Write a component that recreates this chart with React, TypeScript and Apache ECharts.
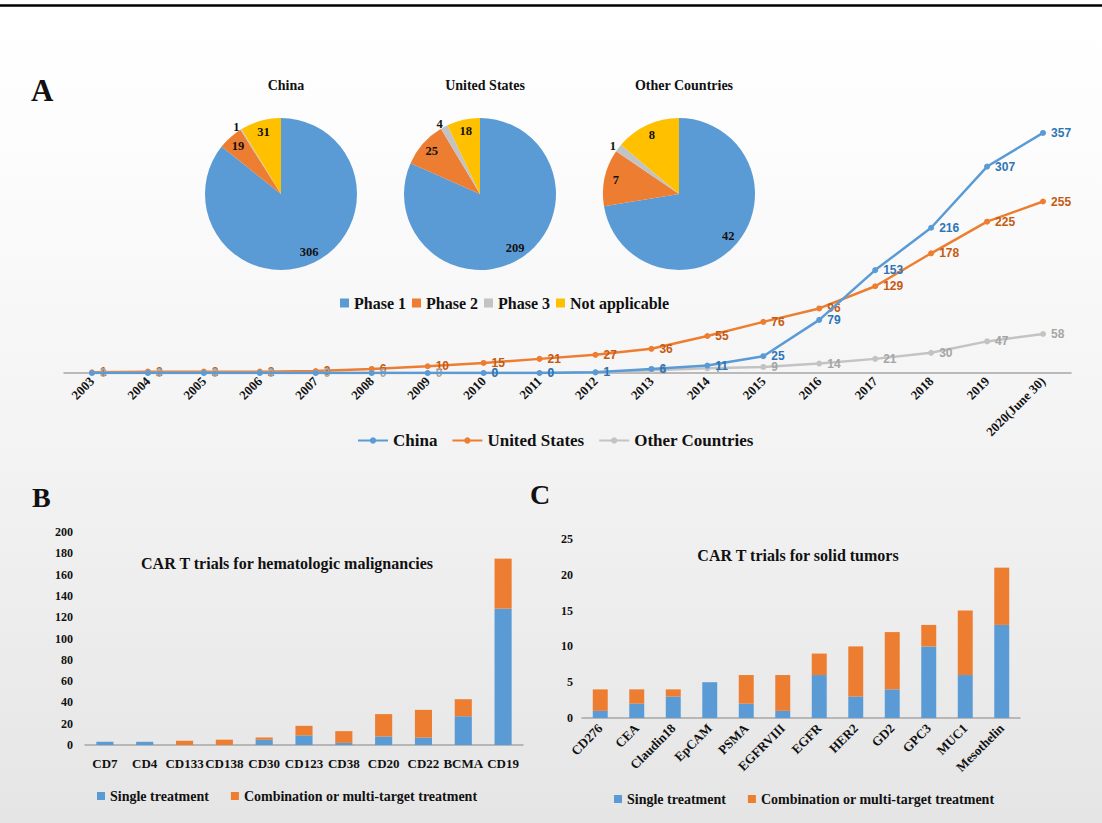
import React, { useEffect, useRef } from "react";
import * as echarts from "echarts";

// ---------- Data ----------
const years = ["2003", "2004", "2005", "2006", "2007", "2008", "2009", "2010", "2011", "2012", "2013", "2014", "2015", "2016", "2017", "2018", "2019", "2020(June 30)"];
const chinaTrials = [0, 0, 0, 0, 0, 0, 0, 0, 0, 1, 6, 11, 25, 79, 153, 216, 307, 357];
const usTrials = [1, 2, 2, 2, 3, 6, 10, 15, 21, 27, 36, 55, 76, 96, 129, 178, 225, 255];
const otherTrials = [0, 0, 0, 0, 0, 0, 0, 0, 0, 1, 4, 7, 9, 14, 21, 30, 47, 58];

const phaseNames = ["Phase 1", "Phase 2", "Phase 3", "Not applicable"];
const chinaPhases = [306, 19, 1, 31];
const usPhases = [209, 25, 4, 18];
const otherPhases = [42, 7, 1, 8];

const hemaTargets = ["CD7", "CD4", "CD133", "CD138", "CD30", "CD123", "CD38", "CD20", "CD22", "BCMA", "CD19"];
const hemaSingle = [3, 3, 0, 0, 5, 9, 2, 8, 7, 27, 128];
const hemaCombo = [0, 0, 4, 5, 2, 9, 11, 21, 26, 16, 47];

const solidTargets = ["CD276", "CEA", "Claudin18", "EpCAM", "PSMA", "EGFRVIII", "EGFR", "HER2", "GD2", "GPC3", "MUC1", "Mesothelin"];
const solidSingle = [1, 2, 3, 5, 2, 1, 6, 3, 4, 10, 6, 13];
const solidCombo = [3, 2, 1, 0, 4, 5, 3, 7, 8, 3, 9, 8];

// ---------- Styles ----------
const SERIF = "'Liberation Serif', 'Times New Roman', serif";
const SANS = "'Liberation Sans', Arial, sans-serif";
const BLUE = "#5B9BD5";
const ORANGE = "#ED7D31";
const GRAY = "#C3C3C3";
const YELLOW = "#FFC000";
const phaseColors = [BLUE, ORANGE, GRAY, YELLOW];

const pieCenters: [number, number][] = [[281, 194], [480, 194], [679, 194]];
const pieTitles = ["China", "United States", "Other Countries"];
const pieValues = [chinaPhases, usPhases, otherPhases];
const R = 76;

function buildOption() {
  const pieSeries: any[] = [];
  pieValues.forEach((vals, i) => {
    pieSeries.push({
      type: "pie",
      name: "pie-" + pieTitles[i],
      center: pieCenters[i],
      radius: [0, R],
      startAngle: 90,
      clockwise: true,
      silent: true,
      label: { show: false },
      labelLine: { show: false },
      data: vals.map((v, k) => ({ name: phaseNames[k], value: v, itemStyle: { color: phaseColors[k] } })),
    });
    pieSeries.push({
      type: "pie",
      name: "pie-labels-" + pieTitles[i],
      center: pieCenters[i],
      radius: [R * 0.62, R],
      startAngle: 90,
      clockwise: true,
      silent: true,
      z: 3,
      itemStyle: { color: "transparent" },
      label: {
        show: true,
        position: "inside",
        fontFamily: SERIF,
        fontWeight: "bold",
        fontSize: 12.5,
        color: "#111",
        formatter: "{c}",
      },
      labelLine: { show: false },
      data: vals.map((v, k) => ({
        name: phaseNames[k],
        value: v,
        itemStyle: { color: "transparent" },
        label: k === 2 ? { position: "outside", distanceToLabelLine: 0 } : undefined,
        labelLine: k === 2 ? { show: false, length: 3, length2: 0 } : undefined,
      })),
    });
  });

  const lineLabel = (color: string, minIndex: number) => ({
    show: true,
    position: "right",
    distance: 5,
    color,
    fontFamily: SANS,
    fontWeight: "bold",
    fontSize: 12,
    formatter: (p: any) => (p.dataIndex >= minIndex ? String(p.value) : ""),
  });

  const boldSerif = (size: number, color = "#111") => ({ fontFamily: SERIF, fontWeight: "bold", fontSize: size, color });

  const lineSeries = (name: string, data: number[], color: string, labelColor: string, minIndex: number, z: number) => ({
    type: "line",
    name,
    xAxisIndex: 0,
    yAxisIndex: 0,
    data,
    symbol: "circle",
    symbolSize: 6,
    itemStyle: { color },
    lineStyle: { width: 2.5, color },
    label: lineLabel(labelColor, minIndex),
    z,
  });

  return {
    animation: false,
    graphic: [
      {
        type: "rect",
        z: -10,
        silent: true,
        shape: { x: 0, y: 0, width: 1102, height: 823 },
        style: {
          fill: new echarts.graphic.LinearGradient(0, 0, 0, 1, [
            { offset: 0, color: "#ffffff" },
            { offset: 0.15, color: "#fdfdfd" },
            { offset: 0.55, color: "#f3f3f3" },
            { offset: 1, color: "#e5e5e5" },
          ]),
        },
      },
      {
        type: "line",
        z: 10,
        silent: true,
        shape: { x1: 0, y1: 5.5, x2: 1102, y2: 5.5 },
        style: { stroke: "#000", lineWidth: 2.5 },
      },
    ],
    title: [
      { text: "A", left: 26, top: 70, textStyle: boldSerif(31) },
      { text: "B", left: 27, top: 478, textStyle: boldSerif(28) },
      { text: "C", left: 525, top: 475, textStyle: boldSerif(28) },
      ...pieTitles.map((t, i) => ({ text: t, left: pieCenters[i][0], top: 73, textAlign: "center", textStyle: boldSerif(14) })),
      { text: "CAR T trials for hematologic malignancies", left: 282, top: 550, textAlign: "center", textStyle: boldSerif(16) },
      { text: "CAR T trials for solid tumors", left: 793, top: 542, textAlign: "center", textStyle: boldSerif(16) },
    ],
    legend: [
      {
        data: ["China", "United States", "Other Countries"],
        left: 352,
        top: 427,
        itemWidth: 30,
        itemHeight: 8,
        itemGap: 14,
        textStyle: boldSerif(17),
        selectedMode: false,
      },
      {
        data: phaseNames,
        left: 335,
        top: 290,
        icon: "rect",
        itemWidth: 9,
        itemHeight: 9,
        itemGap: 6,
        textStyle: boldSerif(16),
        selectedMode: false,
      },
      {
        data: ["Single treatment", "Combination or multi-target treatment"],
        left: 92,
        top: 784,
        icon: "rect",
        itemWidth: 8,
        itemHeight: 8,
        itemGap: 22,
        textStyle: boldSerif(14),
        selectedMode: false,
      },
      {
        data: ["Single treatment", "Combination or multi-target treatment"],
        left: 609,
        top: 787,
        icon: "rect",
        itemWidth: 8,
        itemHeight: 8,
        itemGap: 22,
        textStyle: boldSerif(14),
        selectedMode: false,
      },
    ],
    grid: [
      { left: 64, right: 31, top: 104, height: 269, containLabel: false },
      { left: 85, right: 579, top: 532, bottom: 78, containLabel: false },
      { left: 582, right: 82, top: 539, bottom: 105, containLabel: false },
    ],
    xAxis: [
      {
        type: "category",
        gridIndex: 0,
        data: years,
        boundaryGap: true,
        axisLine: { lineStyle: { color: "#A6A6A6", width: 1.5 } },
        axisTick: { show: false },
        axisLabel: { rotate: 45, margin: 6, interval: 0, ...boldSerif(13) },
      },
      {
        type: "category",
        gridIndex: 1,
        data: hemaTargets,
        axisLine: { lineStyle: { color: "#A6A6A6", width: 1.5 } },
        axisTick: { show: false },
        axisLabel: { margin: 12, interval: 0, ...boldSerif(13) },
      },
      {
        type: "category",
        gridIndex: 2,
        data: solidTargets,
        axisLine: { lineStyle: { color: "#A6A6A6", width: 1.5 } },
        axisTick: { show: false },
        axisLabel: { rotate: 45, margin: 8, interval: 0, ...boldSerif(13) },
      },
    ],
    yAxis: [
      { type: "value", gridIndex: 0, min: 0, max: 400, show: false, splitLine: { show: false } },
      {
        type: "value",
        gridIndex: 1,
        min: 0,
        max: 200,
        interval: 20,
        axisLine: { show: false },
        axisTick: { show: false },
        splitLine: { show: false },
        axisLabel: { margin: 12, ...boldSerif(12) },
      },
      {
        type: "value",
        gridIndex: 2,
        min: 0,
        max: 25,
        interval: 5,
        axisLine: { show: false },
        axisTick: { show: false },
        splitLine: { show: false },
        axisLabel: { margin: 9, ...boldSerif(12) },
      },
    ],
    series: [
      ...pieSeries,
      lineSeries("United States", usTrials, ORANGE, "#C55A11", 0, 3),
      lineSeries("Other Countries", otherTrials, GRAY, "#A5A5A5", 0, 4),
      lineSeries("China", chinaTrials, BLUE, "#2E75B6", 7, 5),
      {
        type: "bar",
        name: "Single treatment",
        xAxisIndex: 1,
        yAxisIndex: 1,
        stack: "hema",
        barWidth: "43%",
        data: hemaSingle,
        itemStyle: { color: BLUE },
      },
      {
        type: "bar",
        name: "Combination or multi-target treatment",
        xAxisIndex: 1,
        yAxisIndex: 1,
        stack: "hema",
        barWidth: "43%",
        data: hemaCombo,
        itemStyle: { color: ORANGE },
      },
      {
        type: "bar",
        name: "Single treatment",
        xAxisIndex: 2,
        yAxisIndex: 2,
        stack: "solid",
        barWidth: "41%",
        data: solidSingle,
        itemStyle: { color: BLUE },
      },
      {
        type: "bar",
        name: "Combination or multi-target treatment",
        xAxisIndex: 2,
        yAxisIndex: 2,
        stack: "solid",
        barWidth: "41%",
        data: solidCombo,
        itemStyle: { color: ORANGE },
      },
    ],
  };
}

export default function App() {
  const ref = useRef<HTMLDivElement>(null);
  useEffect(() => {
    document.body.style.margin = "0";
    if (!ref.current) return;
    const chart = echarts.init(ref.current, undefined, { renderer: "svg" });
    chart.setOption(buildOption() as any);
    return () => chart.dispose();
  }, []);
  return <div ref={ref} style={{ width: 1102, height: 823 }} />;
}
